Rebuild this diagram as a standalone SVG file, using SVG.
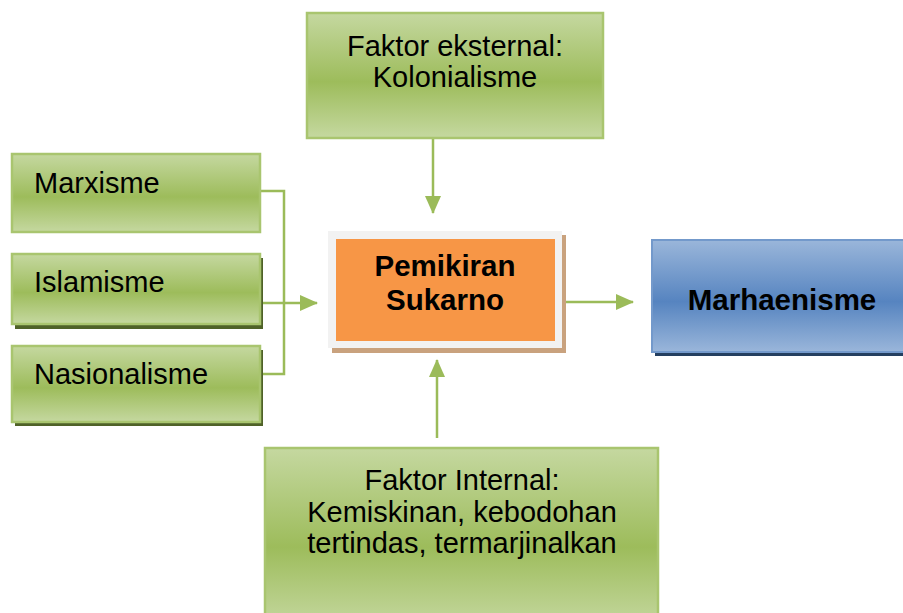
<svg xmlns="http://www.w3.org/2000/svg" width="903" height="613" viewBox="0 0 903 613">
<defs>
<linearGradient id="gg" x1="0" y1="0" x2="0" y2="1">
<stop offset="0" stop-color="#c5d8a0"/><stop offset="0.55" stop-color="#9dbc5b"/><stop offset="1" stop-color="#c5d8a0"/>
</linearGradient>
<linearGradient id="bg" x1="0" y1="0" x2="0" y2="1">
<stop offset="0" stop-color="#9ab6da"/><stop offset="0.55" stop-color="#5684c0"/><stop offset="1" stop-color="#9ab6da"/>
</linearGradient>
<marker id="ah2" markerWidth="18" markerHeight="16" refX="17" refY="8" orient="auto" markerUnits="userSpaceOnUse" viewBox="0 0 18 16">
<path d="M0,0 L18,8 L0,16 Z" fill="#9bbb59"/>
</marker>
</defs>
<style>
.g{fill:url(#gg);stroke:#a9c56f;stroke-width:2.5}
.sh{fill:#4f6228}
.t{font-family:"Liberation Sans",Arial,sans-serif;font-size:29px;fill:#000}
.b{font-weight:bold;font-size:29.5px}
.c{stroke:#9bbb59;stroke-width:2.5;fill:none}
</style>
<g id="connectors">
<path class="c" d="M260,191 H284 V374 H260" />
<path class="c" d="M260,303 H317" marker-end="url(#ah2)"/>
<path class="c" d="M433,139 V213" marker-end="url(#ah2)"/>
<path class="c" d="M437,438 V360" marker-end="url(#ah2)"/>
<path class="c" d="M558,302 H633" marker-end="url(#ah2)"/>
</g>
<g id="eksternal">
<rect class="g" x="307" y="13" width="296" height="125"/>
<text class="t" x="455" y="56" text-anchor="middle">Faktor eksternal:</text>
<text class="t" x="455" y="87" text-anchor="middle">Kolonialisme</text>
</g>
<g id="marxisme">
<rect class="g" x="12" y="154" width="248" height="78"/>
<text class="t" x="34" y="193">Marxisme</text>
</g>
<g id="islamisme">
<rect class="sh" x="15" y="258" width="248" height="71"/>
<rect class="g" x="12" y="254" width="248" height="70"/>
<text class="t" x="34" y="292">Islamisme</text>
</g>
<g id="nasionalisme">
<rect class="sh" x="15" y="350" width="248" height="76"/>
<rect class="g" x="12" y="346" width="248" height="76"/>
<text class="t" x="34" y="384">Nasionalisme</text>
</g>
<g id="pemikiran">
<rect x="332" y="235" width="234" height="118" fill="#c9a27e"/>
<rect x="328" y="231" width="234" height="117" fill="#f2f2f2"/>
<rect x="336" y="239" width="219" height="102" fill="#f79646"/>
<text class="t b" x="445" y="276" text-anchor="middle">Pemikiran</text>
<text class="t b" x="445" y="310" text-anchor="middle">Sukarno</text>
</g>
<g id="marhaenisme">
<rect x="655" y="244" width="260" height="112" fill="#243f60"/>
<rect x="652" y="240" width="262" height="112" fill="url(#bg)" stroke="#7399cb" stroke-width="2"/>
<text class="t b" x="782" y="310" text-anchor="middle">Marhaenisme</text>
</g>
<g id="internal">
<rect class="g" x="265" y="448" width="393" height="180"/>
<text class="t" x="462" y="490" text-anchor="middle">Faktor Internal:</text>
<text class="t" x="462" y="522" text-anchor="middle">Kemiskinan, kebodohan</text>
<text class="t" x="462" y="553" text-anchor="middle">tertindas, termarjinalkan</text>
</g>
</svg>
